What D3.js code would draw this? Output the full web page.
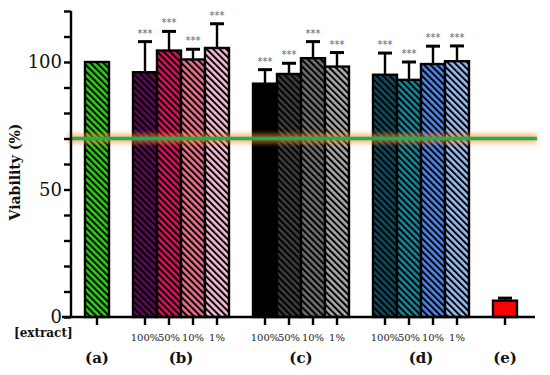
<!DOCTYPE html>
<html>
<head>
<meta charset="utf-8">
<script src="https://cdn.jsdelivr.net/npm/d3@7"></script>
<style>
  body { margin: 0; background: #fff; }
  svg { display: block; }
</style>
</head>
<body>
<div id="chart"></div>
<script>
// bar slots, gaps are empty slots between the groups
const slots = ["a", "g1", "b1", "b2", "b3", "b4", "g2", "c1", "c2", "c3", "c4", "g3", "d1", "d2", "d3", "d4", "g4", "e"];
const barKeys = ["a", "b1", "b2", "b3", "b4", "c1", "c2", "c3", "c4", "d1", "d2", "d3", "d4", "e"];
const barGroup = ["(a)", "(b)", "(b)", "(b)", "(b)", "(c)", "(c)", "(c)", "(c)", "(d)", "(d)", "(d)", "(d)", "(e)"];
const doseLabels = ["", "100%", "50%", "10%", "1%", "100%", "50%", "10%", "1%", "100%", "50%", "10%", "1%", ""];
const viability = [100, 96, 104.5, 101, 105.5, 91.5, 95.3, 101.5, 98.2, 95, 93, 99.2, 100.3, 6.4];
const errors = [0, 12, 7.5, 4, 9.5, 5.5, 4.2, 6.5, 5.5, 8.5, 7, 7, 6, 1];
const significant = [false, true, true, true, true, true, true, true, true, true, true, true, true, false];
const barColors = ["#27d10e", "#5c0a55", "#d8115f", "#ef6f8e", "#f6bcd6",
                   "#000000", "#3c3c3c", "#6e6e6e", "#a9a9a9",
                   "#0d4c5e", "#13879a", "#4c86e8", "#96bdf2", "#ff0000"];
const hatched = [true, true, true, true, true, true, true, true, true, true, true, true, true, false];
const groupLabels = ["(a)", "(b)", "(c)", "(d)", "(e)"];
const yTicks = [0, 50, 100];
const threshold = 70;

const width = 550, height = 375;
const svg = d3.select("#chart").append("svg")
    .attr("width", width)
    .attr("height", height);

const x = d3.scaleBand().domain(slots).range([85, 517]).padding(0);
const y = d3.scaleLinear().domain([0, 120]).range([317, 11]);

const defs = svg.append("defs");
barKeys.forEach((k, i) => {
    const p = defs.append("pattern")
        .attr("id", "hatch-" + k)
        .attr("patternUnits", "userSpaceOnUse")
        .attr("width", 4.6)
        .attr("height", 4.6)
        .attr("patternTransform", "rotate(-45)");
    p.append("rect").attr("width", 4.6).attr("height", 4.6).attr("fill", barColors[i]);
    p.append("line")
        .attr("x1", 1).attr("x2", 1)
        .attr("y1", 0).attr("y2", 4.6)
        .attr("stroke", "#000").attr("stroke-width", 2);
});

const glow = defs.append("filter").attr("id", "glow")
    .attr("filterUnits", "userSpaceOnUse")
    .attr("x", 0).attr("y", 0).attr("width", width).attr("height", height);
glow.append("feGaussianBlur").attr("stdDeviation", 2.2);

const bars = barKeys.map((k, i) => ({
    key: k, value: viability[i], err: errors[i], sig: significant[i],
    color: barColors[i], hatch: hatched[i], dose: doseLabels[i], group: barGroup[i]
}));

// bars
svg.append("g").selectAll("rect")
    .data(bars)
    .join("rect")
    .attr("x", d => x(d.key))
    .attr("y", d => y(d.value))
    .attr("width", x.bandwidth())
    .attr("height", d => y(0) - y(d.value))
    .attr("fill", d => d.hatch ? `url(#hatch-${d.key})` : d.color)
    .attr("stroke", "#000")
    .attr("stroke-width", 2.4);

// error bars
const eb = svg.append("g").selectAll("g")
    .data(bars.filter(d => d.err > 0))
    .join("g");
eb.append("line")
    .attr("x1", d => x(d.key) + x.bandwidth() / 2)
    .attr("x2", d => x(d.key) + x.bandwidth() / 2)
    .attr("y1", d => y(d.value))
    .attr("y2", d => y(d.value + d.err))
    .attr("stroke", "#000").attr("stroke-width", 2.4);
eb.append("line")
    .attr("x1", d => x(d.key) + x.bandwidth() / 2 - 7)
    .attr("x2", d => x(d.key) + x.bandwidth() / 2 + 7)
    .attr("y1", d => y(d.value + d.err))
    .attr("y2", d => y(d.value + d.err))
    .attr("stroke", "#000").attr("stroke-width", 3);

// significance stars
svg.append("g").selectAll("text")
    .data(bars.filter(d => d.sig))
    .join("text")
    .attr("x", d => x(d.key) + x.bandwidth() / 2)
    .attr("y", d => y(d.value + d.err) - 5)
    .attr("text-anchor", "middle")
    .style("font-family", "DejaVu Sans")
    .style("font-size", "10px")
    .style("fill", "#666")
    .text("***");

// threshold line with orange glow
svg.append("rect")
    .attr("x", 68).attr("width", 537 - 68)
    .attr("y", y(threshold) - 5).attr("height", 10)
    .attr("fill", "#ff8a3c").attr("fill-opacity", 0.55)
    .attr("filter", "url(#glow)");
svg.append("line")
    .attr("x1", 70).attr("x2", 537)
    .attr("y1", y(threshold)).attr("y2", y(threshold))
    .attr("stroke", "#1bb34c")
    .attr("stroke-width", 3.5);

// y axis
svg.append("g")
    .attr("transform", "translate(71,0)")
    .call(d3.axisLeft(y).tickValues(d3.range(0, 121, 10)).tickSize(7).tickFormat(d => yTicks.includes(d) ? d : ""))
    .call(g => g.select(".domain").attr("stroke-width", 2.4).attr("d", `M0,${y(0)}V${y(120)}`))
    .call(g => g.selectAll(".tick line").attr("stroke-width", 2.4))
    .call(g => g.selectAll(".tick text")
        .attr("x", -9)
        .style("font-family", "DejaVu Serif")
        .style("font-size", "18px")
        .style("fill", "#111"));

// x axis
svg.append("line")
    .attr("x1", 62).attr("x2", 535)
    .attr("y1", y(0)).attr("y2", y(0))
    .attr("stroke", "#000").attr("stroke-width", 2.4);
svg.append("g").selectAll("line")
    .data(bars)
    .join("line")
    .attr("x1", d => x(d.key) + x.bandwidth() / 2)
    .attr("x2", d => x(d.key) + x.bandwidth() / 2)
    .attr("y1", y(0))
    .attr("y2", y(0) + 8)
    .attr("stroke", "#000").attr("stroke-width", 2.4);

svg.append("g").selectAll("text")
    .data(bars.filter(d => d.dose))
    .join("text")
    .attr("x", d => x(d.key) + x.bandwidth() / 2)
    .attr("y", 341)
    .attr("text-anchor", "middle")
    .style("font-family", "DejaVu Serif")
    .style("font-size", "10px")
    .style("fill", "#222")
    .text(d => d.dose);

svg.append("g").selectAll("text")
    .data(groupLabels)
    .join("text")
    .attr("x", g => {
        const m = bars.filter(d => d.group === g);
        return (x(m[0].key) + x(m[m.length - 1].key) + x.bandwidth()) / 2;
    })
    .attr("y", 363)
    .attr("text-anchor", "middle")
    .style("font-family", "DejaVu Serif")
    .style("font-size", "15px")
    .style("font-weight", "bold")
    .style("fill", "#111")
    .text(d => d);

svg.append("text")
    .attr("x", 14).attr("y", 337)
    .style("font-family", "DejaVu Serif")
    .style("font-size", "12px")
    .style("font-weight", "bold")
    .style("fill", "#111")
    .text("[extract]");

svg.append("text")
    .attr("transform", "translate(20,172) rotate(-90)")
    .attr("text-anchor", "middle")
    .style("font-family", "DejaVu Serif")
    .style("font-size", "14px")
    .style("font-weight", "bold")
    .style("fill", "#111")
    .text("Viability (%)");
</script>
</body>
</html>
